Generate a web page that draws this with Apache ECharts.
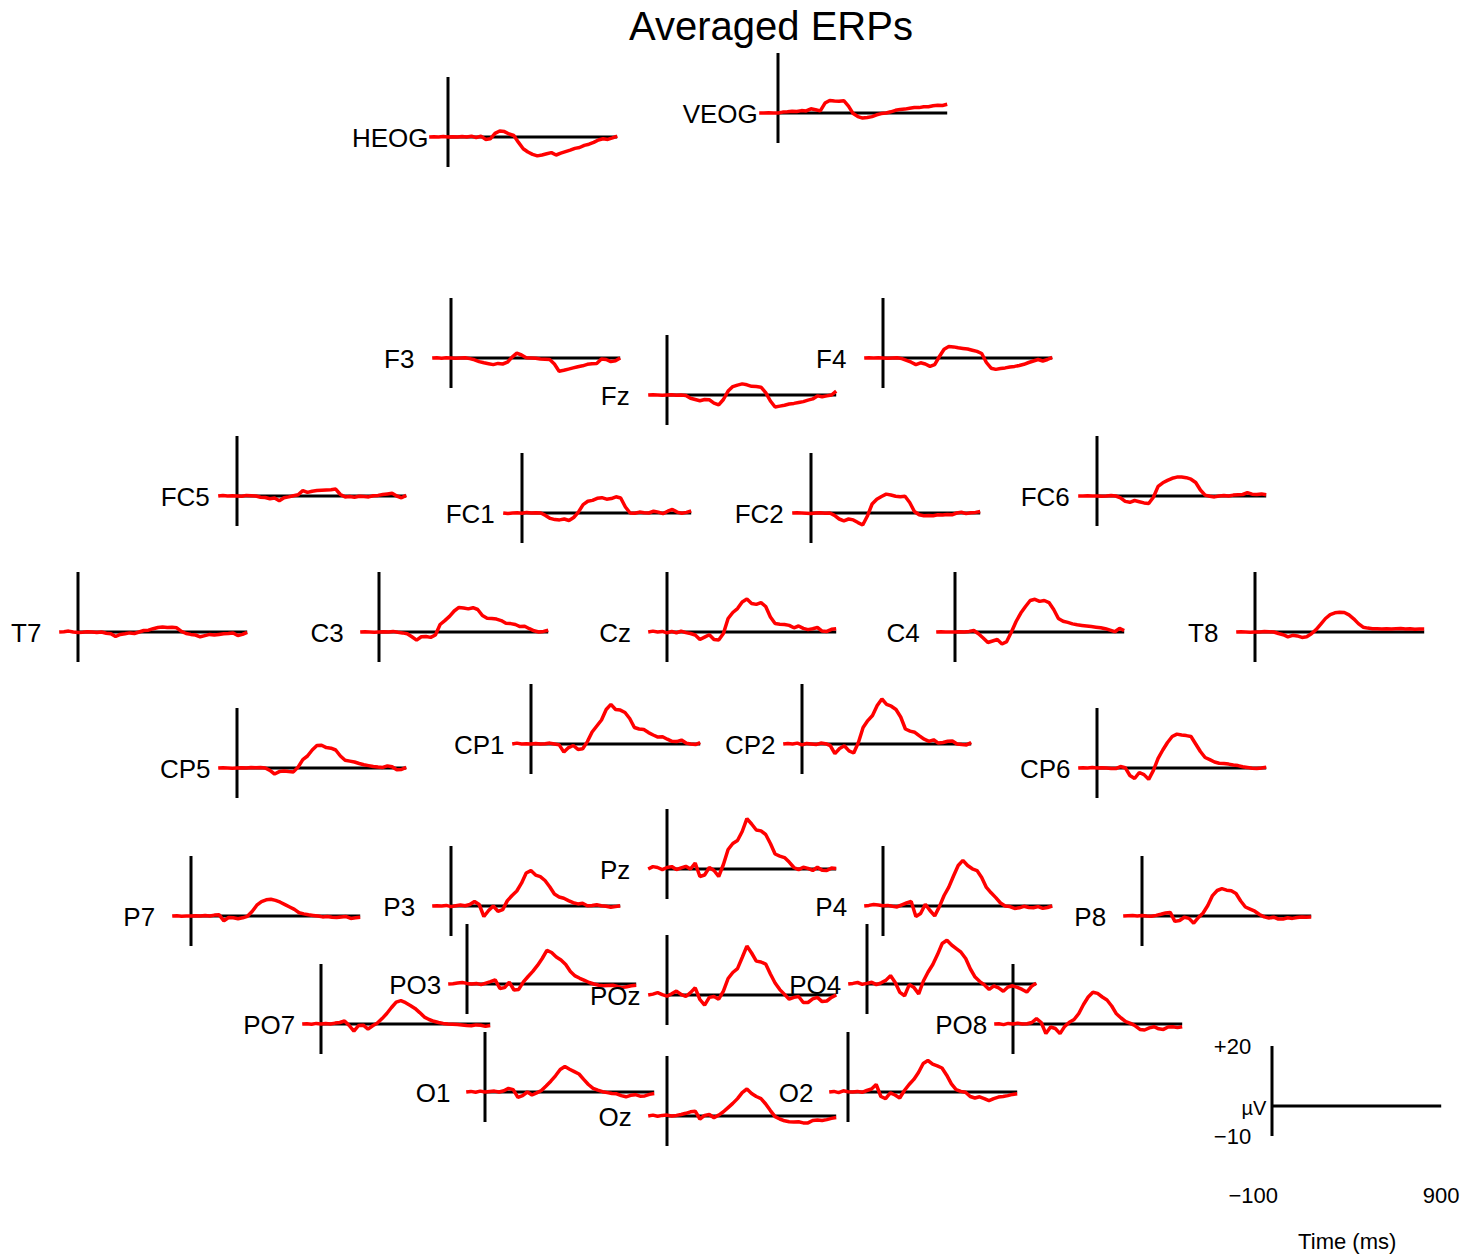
<!DOCTYPE html>
<html><head><meta charset="utf-8">
<script src="https://cdn.jsdelivr.net/npm/echarts/dist/echarts.min.js"></script>
<style>html,body{margin:0;padding:0;background:#fff}#c{width:1467px;height:1254px}</style>
</head><body><div id="c"></div>
<script>
// ---- data ----
const times = [-100,-75,-50,-25,0,25,50,75,100,125,150,175,200,225,250,275,300,325,350,375,400,425,450,475,500,525,550,575,600,625,650,675,700,725,750,775,800,825,850,875,900];
const channels = ['HEOG','VEOG','F3','Fz','F4','FC5','FC1','FC2','FC6','T7','C3','Cz','C4','T8','CP5','CP1','CP2','CP6','Pz','P7','P3','P4','P8','PO3','POz','PO4','PO7','PO8','O1','Oz','O2'];
const HEOG = [0,0.1,0,0.2,0,0.1,0,0.2,0,0.3, -0.2,0.3,-0.8,-0.6,1.2,2,1.8,1,0.5,-1.8, -3.9,-5,-5.8,-6.3,-6,-5.6,-5.2,-6,-5.4,-4.9, -4.4,-3.8,-3.5,-2.8,-2.4,-1.8,-1,-0.6,-0.8,-0.3, 0.3];
const VEOG = [0,0,0.1,0,0,0.3,0.4,0.6,0.5,0.8, 0.7,1.4,1.1,0.7,3.3,4.2,4,3.9,4.1,2.3, -0.2,-1.2,-1.7,-1.5,-1.2,-0.6,-0.2,0,0.4,0.9, 1.2,1.3,1.6,1.8,1.8,2.1,2.1,2.4,2.6,2.5, 2.9];
const F3 = [0,0.1,-0.1,0.1,0,-0.1,0,0.1,-0.2,-0.6, -1.2,-1.6,-1.9,-2.2,-1.8,-2,-1.4,0.3,1.6,1, 0.1,0,-0.1,-0.3,-0.4,-0.5,-2,-4.4,-4.1,-3.7, -3.3,-2.9,-2.6,-2.1,-1.9,-1.8,-0.3,-0.5,-1.2,-0.9, 0];
const Fz = [0,0.1,0,-0.1,0,0.1,-0.1,0,-0.2,-1.1, -1.5,-1.9,-1.5,-1.6,-2.7,-3.3,-1.5,1.3,2.8,3.3, 3.7,3.4,2.9,2.8,2.6,0.8,-2,-4,-3.7,-3.4, -3,-2.8,-2.5,-2.2,-1.7,-1.3,-0.3,-0.6,-0.3,0, 1.3];
const F4 = [0,0.1,0,0.1,0,-0.1,0,0.1,-0.2,-0.8, -1.4,-2.2,-1.6,-2,-2.8,-2.2,0.5,2.9,3.8,3.7, 3.4,3.2,3,2.6,2.2,1.5,-1.5,-3.4,-3.8,-3.5, -3.3,-3,-2.8,-2.5,-2.1,-1.5,-1,-0.5,-1,-0.5, 0.2];
const FC5 = [0,0.2,0,0.1,0,-0.1,0.2,0.1,0,-0.4, -0.5,-0.9,-0.7,-1.6,-0.6,-0.3,0.1,0.4,1.8,1.2, 1.6,1.8,1.9,2,2.1,2.3,0.5,-0.3,-0.2,-0.4, -0.1,-0.2,-0.3,0.1,0.2,0.5,0.7,0.9,0,-0.6, 0.2];
const FC1 = [0,-0.2,0,0.1,-0.1,0.2,0,0.1,0,-0.8, -1.8,-2.2,-2.3,-2,-2.5,-1.5,0.3,2.8,3.9,4.2, 4.9,5.1,4.6,4.8,5.4,5,2,0,-0.1,0.3, 0.1,0,0.6,0.3,-0.2,0.6,1.2,0.3,-0.1,0.2, 0.7];
const FC2 = [0,0.1,0,-0.1,-0.2,0,0.1,-0.1,0,-0.8, -2,-2.6,-2,-2.3,-3.2,-4,-1,3,4.6,5.5, 6.3,6,5.6,5.4,5.6,3.5,0.5,-0.6,-0.9,-0.8, -0.9,-0.6,-0.7,-0.5,-0.6,0,0.3,-0.2,0.1,0.2, 0.5];
const FC6 = [0,0,0.1,0,0,-0.1,0,0.2,0,-0.6, -1.8,-2.1,-1.5,-1.9,-2.3,-2.5,-0.4,3.2,4.4,5.2, 5.9,6.3,6.3,6.1,5.6,4.5,2,0.3,-0.1,-0.3, 0,0.2,0,0.3,0.4,0.5,1.1,0.6,0.5,0.7, 0.4];
const T7 = [0,0.1,0.3,0,-0.2,-0.1,0.1,0,-0.2,0, -0.4,-0.6,-1.5,-0.8,-0.6,-0.3,-0.5,0,0.5,0.6, 1.1,1.5,1.7,1.5,1.6,1.4,0.2,-0.5,-0.8,-1, -1.6,-1.2,-0.8,-1,-0.8,-0.6,-0.5,-0.3,-1.2,-0.8, -0.1];
const C3 = [0,0.1,0,-0.1,0,0.1,0,0.2,-0.1,-0.3, -0.6,-1.6,-2.7,-1.6,-1.5,-1.8,-1,2.5,3.8,5.2, 7,8.2,8,7.7,8.1,7.5,5.5,4.6,4.5,4.3, 3.8,2.9,2.8,2.5,1.8,1.9,1.1,0.4,0,0.2, 0.6];
const Cz = [0,0.3,0,0.2,-0.3,0.2,-0.3,0.3,-0.2,-0.5, -1,-2.5,-1.7,-0.9,-2.5,-2.7,-0.5,4.5,6.5,7.8, 10,11,9.5,9.2,9.8,8.5,5,2.8,2.6,2.5, 2.2,1.4,2,1.2,0.8,1.1,1.5,0.3,0.2,0.9, 1.1];
const C4 = [0,0.1,0,0,0,0.1,0,0.2,0.5,-0.6, -2,-3.5,-3,-2.5,-4,-3.2,0,3.5,6.3,8.5, 10.5,10.9,10.2,10.5,9.8,7.5,4.5,3.6,3.2,2.7, 2.4,2.2,2,1.8,1.6,1.4,1.1,0.6,0.1,1.2, 0.5];
const T8 = [0,0.1,0,-0.1,0,0,0.2,0.1,0,-0.5, -0.9,-1.6,-1.1,-1.3,-1.8,-1.6,-0.6,0.8,2.6,4.5, 5.8,6.4,6.6,6.5,5.7,4.4,2.8,1.6,1.3,1.1, 1.1,1,1.1,1,1.1,1.2,1,1.1,0.9,1, 1];
const CP5 = [0,0.1,0,-0.1,0,0.1,0,0.2,0.1,0.2, 0,-0.8,-2,-1.2,-1,-1.2,-1.3,0.3,2.8,4, 6,7.5,7.6,6.8,6.6,6,4,2.6,2.3,2, 1.5,1.1,0.8,0.5,0.3,0.2,0.7,0.4,-0.6,-0.5, 0.2];
const CP1 = [0,0.3,0,0.1,0,0.2,0,0.1,0.3,0, -0.3,-2.7,-1.2,-0.5,-1.8,-1.6,0.8,4,6,8, 11.5,13.2,11.5,11.3,10.5,8.5,5.5,5,4.8,3.8, 3,2.3,2.4,1.6,0.9,0.8,1.3,0.3,0,-0.2, 0.5];
const CP2 = [0,0.2,0,0.3,-0.3,0.2,0,-0.2,0.3,0.1, -0.5,-3.2,-1.5,-0.6,-2.3,-3,0.5,5.5,7.8,9.5, 12.8,15,13.2,12.6,11.5,9,5,4.3,3.9,2.7, 1.6,0.9,1.4,0.3,0.5,0.9,1,0,-0.2,-0.3, 0.5];
const CP6 = [0,0.1,0,0.2,0,0.1,0,-0.2,-0.2,0.5, 0.1,-2.5,-3.5,-1.5,-2.2,-3.8,-0.8,3.2,6,8.5, 10.5,11.3,11,10.8,10.5,8,5.5,3.5,2.8,2, 1.6,1.5,1.3,1,0.8,0.4,0.2,-0.1,-0.2,0, 0.3];
const Pz = [0,0.8,0.5,-0.2,0.5,0.8,-0.2,0.4,0.9,0, 2,-2.5,-2,0.5,-0.5,-2.5,1.5,6.5,8.5,9.5, 12.5,16.8,15,13,12.7,11.5,8.5,5,4.3,3.8, 2.3,0.5,-0.2,0.6,0.2,-0.5,0.6,-0.4,-0.5,0.3, 0.2];
const P7 = [0,0.1,-0.1,0,0,0.1,0,0.2,0,0.3, 0.4,-1.6,-0.5,-0.6,-0.9,-0.6,-0.1,1.5,3.6,4.8, 5.4,5.6,5.2,4.6,3.8,3,2.2,1.1,0.7,0.4, 0.2,0,-0.3,-0.2,-0.4,-0.5,-0.3,-0.2,-0.8,-0.6, -0.4];
const P3 = [0,0.1,0,0.2,-0.2,0.1,0.3,0.1,0.5,1.5, 0.5,-3.5,-1.5,0,-1.8,-1.2,1.8,3.5,5,7.6, 11,11.8,10.3,9.8,8.5,6.4,4,3,2.6,1.8, 1.1,0.7,0.9,0.1,0.2,0.4,0.1,-0.1,-0.4,-0.2, 0.1];
const P4 = [0,0.2,0.5,0.3,0.1,0.2,-0.1,-0.3,0.4,1, 1.5,-3.5,-2.5,0.6,-1.5,-3.3,-0.2,3.5,6.3,10, 13.5,15.2,13.5,12.4,11.8,9.5,6.2,4.4,2.8,1, 0,-0.2,-0.8,-0.6,-0.1,-0.5,-0.6,-0.2,-0.8,-0.5, 0];
const P8 = [0,0.1,0.2,0,0.2,0,-0.1,0.2,0.6,1, 1.2,-1.8,-1.5,-0.4,-0.8,-2.4,-0.5,1,3.5,6.8, 8.5,9.1,8.6,8.4,7.5,5,3,2.3,1.6,0.5, -0.3,-0.7,-0.4,-1,-1,-0.6,-0.8,-0.5,-0.3,-0.4, -0.3];
const PO3 = [0,0.1,0.3,0.5,0.2,0,0.2,-0.2,0.3,0.8, 1.4,-1.5,-1.2,0.6,-2,-1.8,0.7,2.5,4.2,6.2, 8.5,11.2,10.5,9,8,6.5,4.2,2.7,1.9,1.2, 0.5,0,-0.4,-0.6,-0.5,-0.4,-0.8,-1.2,-0.9,-0.6, -0.4];
const POz = [0,0.3,0.8,0.1,-0.4,0.4,1.3,0.2,-0.5,0.8, 2.4,-1.5,-3.4,-0.8,-0.5,-1.4,1.3,5.5,7.5,8.8, 12.5,16.3,14,11.3,11,10.3,7,4,1.8,0.2, -1.4,-0.8,-0.5,-2.5,-2.5,-1.3,-0.8,-2.2,-2,-0.8, 0];
const PO4 = [0,0.2,0.5,-0.1,0.2,0.6,-0.2,0.4,1.2,2.8, 0.5,-2.8,-3.9,-0.2,-1.2,-3.3,1,4,6.5,9.8, 13.5,14.6,13,11.8,10.6,8.5,5,2.3,0.8,-0.3, -1.8,-0.6,-1.3,-2.4,-1,-0.6,-1.1,-1.8,-2.7,-0.8, 0.3];
const PO7 = [0,0.1,-0.1,0.2,0,0.2,0,0.3,0.5,1, -0.5,-2.4,-0.5,-0.4,-1.7,-0.6,0.3,1.8,3.5,5.5, 7.3,7.8,7.1,6.2,5.2,3.8,2.3,1.5,0.9,0.5, 0.2,0,-0.1,-0.2,-0.3,-0.5,-0.6,-0.3,-0.4,-0.8, -0.5];
const PO8 = [0,0.1,-0.2,0.2,0,0.3,0,0.1,0.5,1.8, 0.5,-3.2,-1,-1.5,-3.2,-0.8,0.6,1.5,3.5,6.5, 9,10.6,10.2,9,8,6,3.4,2,0.8,0.2, -0.6,-1.8,-2,-1.3,-0.9,-1.6,-1.8,-1,-0.9,-1.2, -0.9];
const O1 = [0,0.2,-0.1,0.3,0,0.2,0.3,0,0.4,1.2, 0.8,-1.8,-1.2,0,-1,-0.3,0.5,2,3.6,5.4, 7.5,8.5,7.6,6.8,6,4.2,2.5,1.2,0.6,0.1, -0.2,-0.5,-0.6,-1.2,-1.6,-1.1,-0.9,-1.4,-1.3,-0.8, -0.5];
const Oz = [0,0.3,-0.1,0.2,0.3,0,0.2,0.5,0.9,1.4, 1.6,-1,0.2,0.5,-0.6,0.3,1.4,2.8,4.2,5.8, 7.8,9,7.5,6.5,5.8,4,1.8,-0.2,-1,-1.6, -1.9,-2,-1.9,-2.3,-2.3,-1.5,-1.3,-1.5,-1.2,-0.8, -0.5];
const O2 = [0,0.2,-0.2,0.4,0.1,0,0.2,-0.1,0.5,1, 2.5,-1.5,-2.2,-0.3,-1,-2,0.5,2.5,4.2,6.5, 9.5,10.5,9.3,8.7,8,5.6,2.7,0.8,0.2,-0.1, -1.5,-2,-1.6,-2.2,-2.9,-2.2,-1.7,-1.5,-1.2,-0.8, -0.6];
const xTickValues = [-100, 900];
const xTickLabels = ['\u2212100', '900'];
const yTickValues = [-10, 20];
const yTickLabels = ['\u221210', '+20'];

const waves = {HEOG,VEOG,F3,Fz,F4,FC5,FC1,FC2,FC6,T7,C3,Cz,C4,T8,CP5,CP1,CP2,CP6,Pz,P7,P3,P4,P8,PO3,POz,PO4,PO7,PO8,O1,Oz,O2};

// ---- layout: pixel position of (t=0 ms, 0 uV) for each panel ----
const layout = {
  HEOG:[448,137], VEOG:[778,113],
  F3:[451,358], Fz:[667,395], F4:[883,358],
  FC5:[237,496], FC1:[522,513], FC2:[811,513], FC6:[1097,496],
  T7:[78,632], C3:[379,632], Cz:[667,632], C4:[955,632], T8:[1255,632],
  CP5:[237,768], CP1:[531,744], CP2:[802,744], CP6:[1097,768],
  Pz:[667,869], P7:[191,916], P3:[451,906], P4:[883,906], P8:[1142,916],
  PO3:[467,984], POz:[667,995], PO4:[867,984], PO7:[321,1024], PO8:[1013,1024],
  O1:[485,1092], Oz:[667,1116], O2:[848,1092]
};
const scaleAt = [1272,1106];
const PW = 188, PH = 90, PRE = 18.8, ABOVE = 60;
const FONT = '"Liberation Sans", Arial, Helvetica, sans-serif';

const grids = [], xAxes = [], yAxes = [], series = [], graphics = [];
function addPanel(i, x0, y0) {
  grids.push({left: x0 - PRE, top: y0 - ABOVE, width: PW, height: PH});
}
function axisLines(i) {
  series.push({type:'line', xAxisIndex:i, yAxisIndex:i, data:[[0,-10],[0,20]], symbol:'none',
    lineStyle:{color:'#000', width:3}, silent:true, z:1, clip:false, animation:false});
  series.push({type:'line', xAxisIndex:i, yAxisIndex:i, data:[[0,0],[900,0]], symbol:'none',
    lineStyle:{color:'#000', width:3}, silent:true, z:1, clip:false, animation:false});
}
channels.forEach((name, i) => {
  const [x0, y0] = layout[name];
  addPanel(i, x0, y0);
  xAxes.push({gridIndex:i, type:'value', min:-100, max:900, show:false});
  yAxes.push({gridIndex:i, type:'value', min:-10, max:20, show:false});
  axisLines(i);
  series.push({type:'line', name:name, xAxisIndex:i, yAxisIndex:i,
    data: times.map((t, k) => [t, waves[name][k]]), symbol:'none',
    lineStyle:{color:'#ff0000', width:3.5}, z:3, clip:false, animation:false});
  graphics.push({type:'text', x: x0 - PRE - (name.length >= 4 ? 39 : 33), y: y0 + 1, z:10,
    style:{text:name, font:'26px ' + FONT, textAlign:'center', textVerticalAlign:'middle',
      align:'center', verticalAlign:'middle', fill:'#000'}});
});

// scale panel
const si = channels.length;
addPanel(si, scaleAt[0], scaleAt[1]);
xAxes.push({gridIndex:si, type:'value', min:-100, max:900,
  axisLine:{show:false}, axisTick:{show:false}, splitLine:{show:false},
  axisLabel:{customValues:xTickValues, margin:48, fontSize:22, fontFamily:FONT, color:'#000',
    formatter: v => xTickLabels[xTickValues.indexOf(v)] || ''},
  name:'Time (ms)', nameLocation:'middle', nameGap:94,
  nameTextStyle:{fontSize:22, fontFamily:FONT, color:'#000'}});
yAxes.push({gridIndex:si, type:'value', min:-10, max:20,
  axisLine:{show:false}, axisTick:{show:false}, splitLine:{show:false},
  axisLabel:{customValues:yTickValues, margin:2, fontSize:22, fontFamily:FONT, color:'#000',
    formatter: v => yTickLabels[yTickValues.indexOf(v)] || ''}});
axisLines(si);
graphics.push({type:'text', x: 1254, y: 1108, z:0,
  style:{text:'\u00b5V', font:'20px ' + FONT, textAlign:'center', textVerticalAlign:'middle',
    align:'center', verticalAlign:'middle', fill:'#000'}});

// title
graphics.push({type:'text', x: 771, y: 26, z:10,
  style:{text:'Averaged ERPs', font:'40px ' + FONT, textAlign:'center', textVerticalAlign:'middle',
    align:'center', verticalAlign:'middle', fill:'#000'}});

const chart = echarts.init(document.getElementById('c'), null, {renderer:'svg', width:1467, height:1254});
chart.setOption({
  backgroundColor:'#fff', animation:false,
  grid: grids, xAxis: xAxes, yAxis: yAxes, series: series, graphic: graphics
});
</script></body></html>
